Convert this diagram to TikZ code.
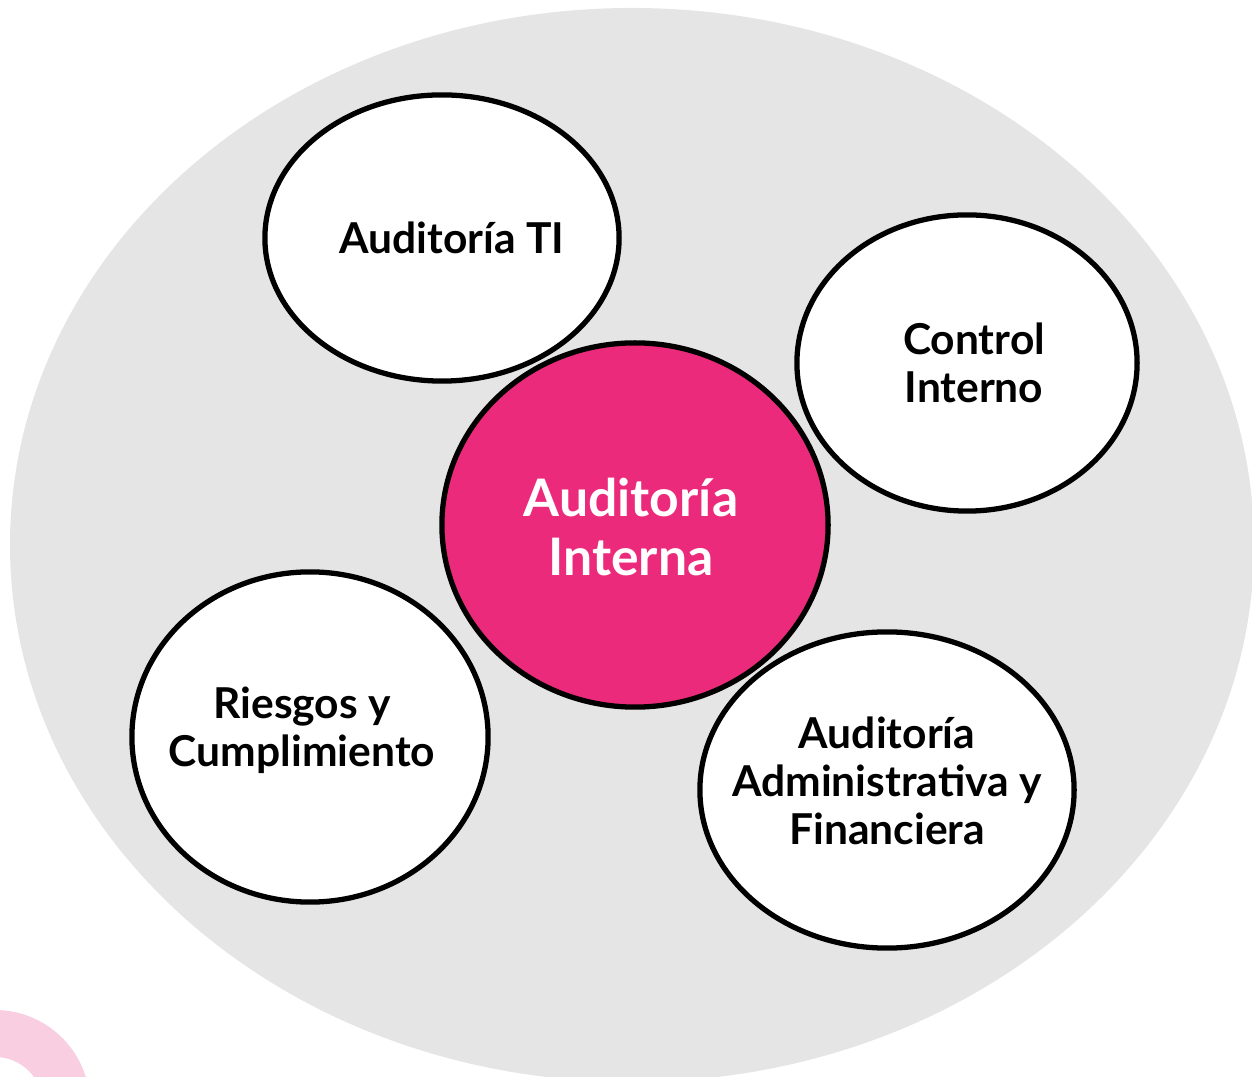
\documentclass[tikz,border=0pt]{standalone}
\usepackage{fontspec}
\setmainfont{Lato}
\usetikzlibrary{shapes,positioning}
\definecolor{bgGrey}{RGB}{229,229,229}
\definecolor{hotPink}{RGB}{236,42,123}
\definecolor{softPink}{RGB}{248,206,224}

\begin{document}
\begin{tikzpicture}[x=0.01cm,y=-0.01cm,
            area/.style={draw,line width=1.5pt,ellipse,fill=white,inner sep=0pt},
            core/.style={area,fill=hotPink},
            areatext/.style={align=center,inner sep=0pt,font=\bfseries\fontsize{12.1}{13.7}\selectfont},
            coretext/.style={areatext,text=white,font=\bfseries\fontsize{14.7}{16.5}\selectfont}
  ]
  \useasboundingbox (0,0) rectangle (1252,1077);

  % background
  \fill[bgGrey] (632,545) ellipse [x radius=622, y radius=537];
  \fill[softPink,even odd rule] (-5,1105) circle [radius=95] (-5,1105) circle [radius=48];

  \node[area, minimum width=3.54cm, minimum height=2.86cm,
        label={[areatext,xshift=0.1cm]center:Auditoría TI}] (ti) at (442,238) {};
  \node[area, minimum width=3.40cm, minimum height=2.96cm,
        label={[areatext,xshift=0.07cm]center:Control\\Interno}] (control) at (967,363) {};
  \node[area, minimum width=3.56cm, minimum height=3.30cm,
        label={[areatext,xshift=-0.08cm,yshift=0.07cm]center:Riesgos y\\Cumplimiento}] (riesgos) at (310,737) {};
  \node[area, minimum width=3.74cm, minimum height=3.16cm,
        label={[areatext,yshift=0.09cm]center:Auditoría\\Administrativa y\\Financiera}] (admin) at (887,790) {};

  \node[core, minimum width=3.86cm, minimum height=3.64cm,
        label={[coretext,xshift=-0.04cm,yshift=-0.02cm]center:Auditoría\\Interna}] (interna) at (635,525) {};

\end{tikzpicture}
\end{document}
